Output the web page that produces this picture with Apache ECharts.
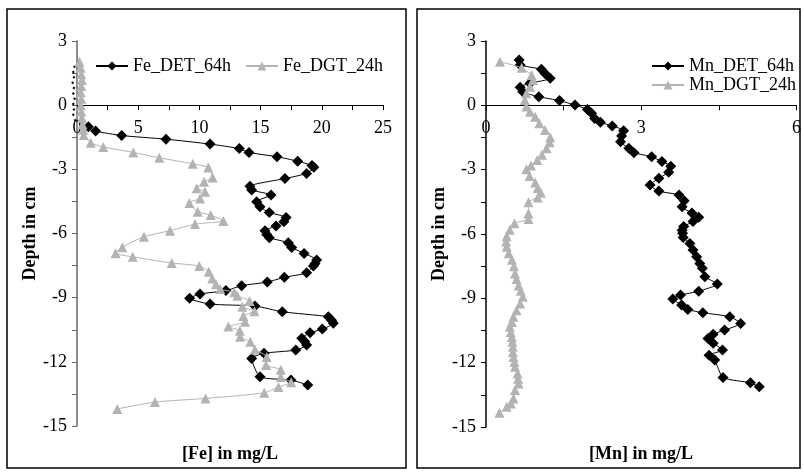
<!DOCTYPE html>
<html>
<head>
<meta charset="utf-8">
<script src="https://cdn.jsdelivr.net/npm/echarts@6/dist/echarts.min.js"></script>
<style>html,body{margin:0;padding:0;background:#fff}#c{width:804px;height:472px}</style>
</head>
<body>
<div id="c"></div>
<script>
// ---- data (depth in cm, concentration in mg/L) ----
const feDetDepth = [2.05,1.80,1.55,1.30,1.05,0.80,0.55,0.30,0.05,-0.20,-0.45,-0.70,-1.01,-1.21,-1.42,-1.59,-1.82,-2.03,-2.21,-2.41,-2.62,-2.82,-2.90,-3.19,-3.43,-3.79,-3.97,-4.20,-4.51,-4.75,-5.02,-5.25,-5.45,-5.65,-5.87,-6.05,-6.20,-6.43,-6.65,-6.93,-7.24,-7.40,-7.52,-7.84,-8.05,-8.27,-8.44,-8.67,-8.83,-9.03,-9.30,-9.39,-9.66,-9.89,-10.05,-10.20,-10.47,-10.64,-10.90,-11.05,-11.21,-11.45,-11.60,-11.84,-12.70,-12.85,-13.08];
const feDetValue = [0.10,-0.20,-0.30,-0.25,-0.35,-0.25,-0.30,-0.20,-0.30,-0.25,-0.30,-0.15,0.93,1.52,3.65,7.27,10.87,13.26,14.05,16.34,18.03,19.20,19.35,18.76,16.99,14.13,14.27,15.85,14.68,14.95,15.71,17.08,16.90,16.26,15.36,15.50,15.71,17.26,17.54,18.55,19.58,19.45,19.31,18.76,16.94,15.55,13.45,12.17,10.05,9.20,10.87,14.54,16.77,20.53,20.80,20.94,20.04,19.04,18.36,18.60,18.76,17.87,15.28,14.27,14.95,17.48,18.85];

const feDgtDepth = [2.03,1.75,1.45,1.18,0.90,0.60,0.30,0.00,-0.30,-0.60,-0.90,-1.15,-1.40,-1.76,-1.95,-2.21,-2.46,-2.74,-2.92,-3.38,-3.58,-3.89,-4.05,-4.36,-4.57,-4.98,-5.14,-5.41,-5.56,-5.87,-6.15,-6.64,-6.92,-7.09,-7.38,-7.52,-7.79,-8.10,-8.37,-8.60,-8.75,-8.91,-9.16,-9.42,-9.63,-9.86,-10.13,-10.35,-10.55,-10.83,-11.06,-11.42,-11.77,-12.15,-12.37,-12.71,-12.95,-13.18,-13.45,-13.71,-13.88,-14.20];
const feDgtValue = [0.20,0.30,0.35,0.40,0.35,0.30,0.35,0.30,0.35,0.40,0.45,0.50,0.55,1.12,2.15,4.60,6.72,9.45,10.73,11.08,10.38,9.78,10.46,10.05,9.18,9.86,10.92,11.96,9.64,7.60,5.47,3.70,3.15,4.55,7.74,9.99,10.77,11.05,11.35,11.70,12.85,13.10,14.10,13.50,14.50,13.59,13.73,12.36,13.30,13.32,14.16,14.54,15.50,15.44,16.65,16.65,17.50,16.45,15.30,10.50,6.37,3.29];

const mnDetDepth = [2.11,1.88,1.68,1.49,1.26,1.03,0.84,0.63,0.40,0.22,0.01,-0.19,-0.37,-0.61,-0.79,-0.96,-1.18,-1.43,-1.70,-2.00,-2.21,-2.40,-2.62,-2.84,-3.12,-3.40,-3.72,-4.00,-4.18,-4.45,-4.73,-5.02,-5.22,-5.42,-5.65,-5.82,-5.97,-6.16,-6.44,-6.75,-7.06,-7.37,-7.60,-7.99,-8.33,-8.67,-8.85,-9.03,-9.31,-9.52,-9.67,-9.86,-10.17,-10.48,-10.67,-10.87,-11.10,-11.41,-11.65,-11.88,-12.69,-12.94,-13.12];
const mnDetValue = [0.64,0.66,1.07,1.14,1.24,0.85,0.66,0.71,1.02,1.42,1.72,1.96,2.04,2.10,2.21,2.44,2.66,2.62,2.60,2.76,2.86,3.20,3.40,3.57,3.53,3.34,3.17,3.34,3.73,3.83,3.79,3.98,4.11,4.00,3.82,3.79,3.80,3.81,3.94,4.00,4.07,4.13,4.18,4.23,4.47,4.11,3.76,3.61,3.78,3.90,4.19,4.71,4.92,4.61,4.39,4.29,4.39,4.57,4.31,4.42,4.58,5.11,5.28];

const mnDgtDepth = [2.03,1.75,1.41,1.18,0.87,0.56,0.25,-0.06,-0.30,-0.53,-0.84,-1.15,-1.49,-1.72,-2.00,-2.30,-2.55,-2.80,-2.98,-3.30,-3.60,-3.85,-4.08,-4.30,-4.52,-5.04,-5.30,-5.50,-5.80,-6.10,-6.35,-6.60,-6.90,-7.20,-7.50,-7.84,-8.10,-8.40,-8.65,-8.93,-9.24,-9.55,-9.86,-10.10,-10.33,-10.57,-10.80,-11.03,-11.26,-11.50,-11.73,-11.96,-12.19,-12.50,-12.75,-12.97,-13.28,-13.67,-13.90,-14.06,-14.34];
const mnDgtValue = [0.27,0.69,0.88,0.91,0.85,0.78,0.75,0.78,0.85,0.95,1.03,1.14,1.24,1.23,1.17,1.08,0.99,0.87,0.78,0.84,0.95,1.00,1.06,1.00,0.82,0.82,0.82,0.55,0.46,0.40,0.39,0.40,0.44,0.50,0.54,0.56,0.59,0.63,0.67,0.71,0.66,0.59,0.53,0.50,0.46,0.48,0.50,0.51,0.52,0.52,0.53,0.55,0.56,0.61,0.62,0.63,0.56,0.53,0.48,0.40,0.26];

const depthTicks = {min: -15, max: 3, step: 1.5, labelStep: 3};
const feTicks = {min: 0, max: 25, step: 2.5, labelStep: 5};
const mnTicks = {min: 0, max: 6, step: 1.5, labelStep: 3};
const seriesNames = ['Fe_DET_64h', 'Fe_DGT_24h', 'Mn_DET_64h', 'Mn_DGT_24h'];
const axisTitles = ['[Fe] in mg/L', '[Mn] in mg/L', 'Depth in cm'];

// ---- chart ----
const pairs = (vals, deps) => vals.map((v, i) => [v, deps[i]]);
const FONT = 'Liberation Serif';
const GRAY = '#b3b3b3';
const grids = [
  {left: 77, top: 41, width: 306, height: 385},
  {left: 486, top: 41, width: 311, height: 386}
];

function fmt(step) {
  return v => (Math.abs(v / step - Math.round(v / step)) < 1e-6 ? String(v) : '');
}
// x axis drawn at depth 0 (top axis pushed down into the grid)
function xAxis(idx, t) {
  const g = grids[idx];
  const zeroOffset = g.height * (depthTicks.max - 0) / (depthTicks.max - depthTicks.min);
  return {
    type: 'value', gridIndex: idx, min: t.min, max: t.max, interval: t.step,
    position: 'top', offset: -zeroOffset,
    axisLine: {onZero: false, lineStyle: {color: '#000', width: 1}},
    axisTick: {show: true, inside: true, length: 5, lineStyle: {color: '#000'}},
    axisLabel: {inside: true, formatter: fmt(t.labelStep), margin: 14, fontFamily: FONT, fontSize: 18, color: '#000', verticalAlign: 'top'},
    splitLine: {show: false}
  };
}
function yAxis(idx, t, color) {
  return {
    type: 'value', gridIndex: idx, min: t.min, max: t.max, interval: t.step,
    name: axisTitles[2], nameLocation: 'middle', nameRotate: 90, nameGap: 33,
    nameTextStyle: {fontFamily: FONT, fontSize: 18, fontWeight: 'bold', color: '#000'},
    axisLine: {show: true, onZero: false, lineStyle: {color: color, width: 1.5}},
    axisTick: {show: true, inside: false, length: 5, lineStyle: {color: color}},
    axisLabel: {formatter: fmt(t.labelStep), margin: 10, fontFamily: FONT, fontSize: 18, color: '#000'},
    splitLine: {show: false}
  };
}
function lineSeries(name, idx, data, black) {
  return {
    name: name, type: 'line', xAxisIndex: idx, yAxisIndex: idx, data: data,
    smooth: 0.2, clip: false,
    symbol: black ? 'diamond' : 'triangle',
    symbolSize: black ? (v => (v[0] < 0.5 && idx === 0 ? 3 : 11)) : 10,
    itemStyle: {color: black ? '#000' : GRAY},
    lineStyle: {color: black ? '#000' : GRAY, width: 1},
    z: black ? 2 : 3
  };
}

const chart = echarts.init(document.getElementById('c'), null, {renderer: 'canvas'});
chart.setOption({
  animation: false,
  backgroundColor: '#fff',
  grid: grids,
  xAxis: [xAxis(0, feTicks), xAxis(1, mnTicks)],
  yAxis: [yAxis(0, depthTicks, '#666'), yAxis(1, depthTicks, '#000')],
  legend: [
    {data: [seriesNames[0], seriesNames[1]], left: 90, top: 52, orient: 'horizontal', itemWidth: 32, itemHeight: 11, itemGap: 14,
     textStyle: {fontFamily: FONT, fontSize: 18, color: '#000'}},
    {data: [seriesNames[2], seriesNames[3]], left: 646, top: 52, orient: 'vertical', itemWidth: 32, itemHeight: 11, itemGap: 1,
     textStyle: {fontFamily: FONT, fontSize: 18, color: '#000'}}
  ],
  graphic: [
    {type: 'rect', shape: {x: 7, y: 9, width: 399, height: 459}, style: {fill: 'none', stroke: '#000', lineWidth: 1.5}, silent: true},
    {type: 'rect', shape: {x: 417, y: 9, width: 383, height: 459}, style: {fill: 'none', stroke: '#000', lineWidth: 1.5}, silent: true},
    {type: 'text', x: 230, y: 454, style: {text: axisTitles[0], textAlign: 'center', textVerticalAlign: 'middle', font: 'bold 18px "Liberation Serif"', fill: '#000'}},
    {type: 'text', x: 641, y: 454, style: {text: axisTitles[1], textAlign: 'center', textVerticalAlign: 'middle', font: 'bold 18px "Liberation Serif"', fill: '#000'}}
  ],
  series: [
    lineSeries(seriesNames[0], 0, pairs(feDetValue, feDetDepth), true),
    lineSeries(seriesNames[1], 0, pairs(feDgtValue, feDgtDepth), false),
    lineSeries(seriesNames[2], 1, pairs(mnDetValue, mnDetDepth), true),
    lineSeries(seriesNames[3], 1, pairs(mnDgtValue, mnDgtDepth), false)
  ]
});
</script>
</body>
</html>
